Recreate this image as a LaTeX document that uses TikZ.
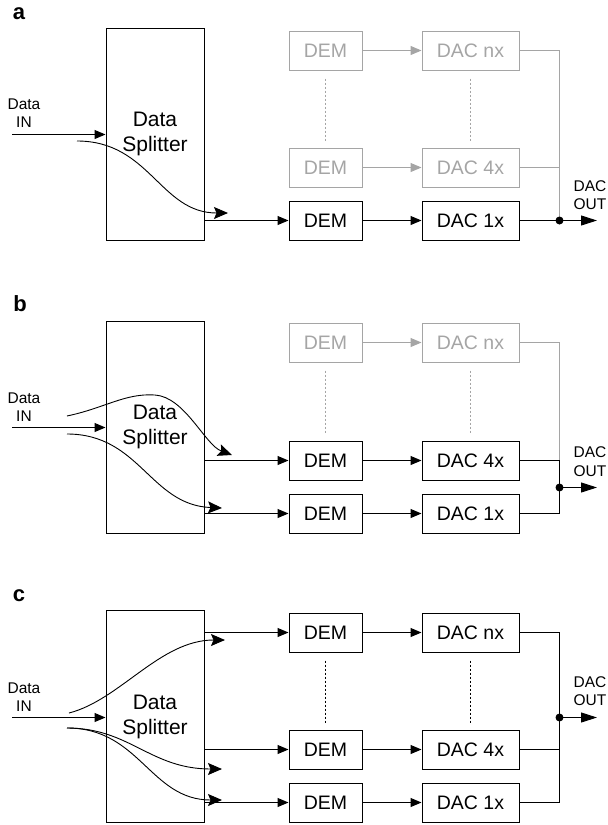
\documentclass[tikz,border=0pt]{standalone}
\usepackage{fontspec}
\setmainfont{Liberation Sans}
\usetikzlibrary{arrows.meta}
\definecolor{faded}{RGB}{165,165,165}
\tikzset{
  blk/.style={draw, line width=1pt, minimum height=39pt, inner sep=0pt,
    font=\fontsize{19.5}{22}\selectfont},
  dembox/.style={blk, minimum width=73pt},
  dacbox/.style={blk, minimum width=97pt},
  splitbox/.style={draw, line width=1pt, minimum width=98pt, minimum height=212pt,
    align=center, inner sep=0pt, font=\fontsize{21}{25}\selectfont},
  ghost/.style={draw=faded, text=faded},
  wire/.style={line width=1pt},
  link/.style={wire, -{Triangle[length=11pt,width=9pt]}},
  flow/.style={line width=0.9pt, -{Stealth[length=14pt,width=12pt,inset=2.5pt]}},
  outarrow/.style={wire, -{Triangle[length=16pt,width=10pt]}},
  dots/.style={line width=0.8pt, dash pattern=on 2pt off 2pt, shorten <=8pt, shorten >=7pt},
  tag/.style={align=center, inner sep=0pt, font=\fontsize{15.5}{18.5}\selectfont},
  panel/.style={inner sep=0pt, font=\bfseries\fontsize{22}{26}\selectfont},
  junction/.style={circle, fill, inner sep=0pt, minimum size=8pt},
}
\begin{document}
\begin{tikzpicture}[x=1pt,y=-1pt]
\useasboundingbox (0,0) rectangle (608,825);

% ---------------- panel a ----------------
\node[panel] (la) at (19,14) {a};
\node[splitbox] (sa) at (155,134) {Data\\Splitter};
\node[tag] (ia) at (24,113) {Data\\IN};
\coordinate (ina) at (12,134.5);
\draw[link] (ina) -- (sa.west |- ina);

\node[dembox, ghost] (dna) at (325.5,50.5) {DEM};
\node[dacbox, ghost] (cna) at (470.5,50.5) {DAC nx};
\node[dembox, ghost] (d4a) at (325.5,167.5) {DEM};
\node[dacbox, ghost] (c4a) at (470.5,167.5) {DAC 4x};
\node[dembox] (d1a) at (325.5,220.5) {DEM};
\node[dacbox] (c1a) at (470.5,220.5) {DAC 1x};

\draw[link, faded] (dna) -- (cna);
\draw[link, faded] (d4a) -- (c4a);
\draw[link] (d1a) -- (c1a);
\draw[dots, faded] (dna.south) -- (d4a.north);
\draw[dots, faded] (cna.south) -- (c4a.north);

\draw[link] (sa.east |- d1a.west) -- (d1a.west);
\coordinate (sa1) at (77,141);
\coordinate (ta1) at (228,213);
\draw[flow] (sa1) .. controls (150,141) and (160,213) .. (ta1);

\coordinate (ja) at (559.5,220.5);
\draw[wire, faded] (cna.east) -| (ja);
\draw[wire, faded] (c4a.east) -- (c4a.east -| ja);
\draw[wire] (c1a.east) -- (ja);
\node[junction] (jna) at (ja) {};
\coordinate (oa) at (597,220.5);
\draw[outarrow] (jna.center) -- (oa);
\node[tag] (outa) at (590,195) {DAC\\OUT};

% ---------------- panel b ----------------
\node[panel] (lb) at (20,304) {b};
\node[splitbox] (sb) at (155,427) {Data\\Splitter};
\node[tag] (ib) at (24,407) {Data\\IN};
\coordinate (inb) at (12,427.5);
\draw[link] (inb) -- (sb.west |- inb);

\node[dembox, ghost] (dnb) at (325.5,342.5) {DEM};
\node[dacbox, ghost] (cnb) at (470.5,342.5) {DAC nx};
\node[dembox] (d4b) at (325.5,460.5) {DEM};
\node[dacbox] (c4b) at (470.5,460.5) {DAC 4x};
\node[dembox] (d1b) at (325.5,513.5) {DEM};
\node[dacbox] (c1b) at (470.5,513.5) {DAC 1x};

\draw[link, faded] (dnb) -- (cnb);
\draw[link] (d4b) -- (c4b);
\draw[link] (d1b) -- (c1b);
\draw[dots, faded] (dnb.south) -- (d4b.north);
\draw[dots, faded] (cnb.south) -- (c4b.north);

\draw[link] (sb.east |- d4b.west) -- (d4b.west);
\draw[link] (sb.east |- d1b.west) -- (d1b.west);
\coordinate (sb1) at (67,416);
\coordinate (tb1) at (232,455);
\draw[flow] (sb1) .. controls (105,408) and (125,393) .. (155,395)
                  .. controls (185,397) and (205,445) .. (tb1);
\coordinate (sb2) at (67,434);
\coordinate (tb2) at (222,508);
\draw[flow] (sb2) .. controls (140,434) and (150,505) .. (tb2);

\coordinate (jb) at (559.5,487.5);
\draw[wire, faded] (cnb.east) -| (c4b.east -| jb);
\draw[wire] (c4b.east) -| (jb);
\draw[wire] (c1b.east) -| (jb);
\node[junction] (jnb) at (jb) {};
\coordinate (ob) at (597,487.5);
\draw[outarrow] (jnb.center) -- (ob);
\node[tag] (outb) at (590,461.5) {DAC\\OUT};

% ---------------- panel c ----------------
\node[panel] (lc) at (19,596) {c};
\node[splitbox] (sc) at (155,716.5) {Data\\Splitter};
\node[tag] (ic) at (24,697) {Data\\IN};
\coordinate (inc) at (12,717.5);
\draw[link] (inc) -- (sc.west |- inc);

\node[dembox] (dnc) at (325.5,632.5) {DEM};
\node[dacbox] (cnc) at (470.5,632.5) {DAC nx};
\node[dembox] (d4c) at (325.5,749.5) {DEM};
\node[dacbox] (c4c) at (470.5,749.5) {DAC 4x};
\node[dembox] (d1c) at (325.5,802.5) {DEM};
\node[dacbox] (c1c) at (470.5,802.5) {DAC 1x};

\draw[link] (dnc) -- (cnc);
\draw[link] (d4c) -- (c4c);
\draw[link] (d1c) -- (c1c);
\draw[dots] (dnc.south) -- (d4c.north);
\draw[dots] (cnc.south) -- (c4c.north);

\draw[link] (sc.east |- dnc.west) -- (dnc.west);
\draw[link] (sc.east |- d4c.west) -- (d4c.west);
\draw[link] (sc.east |- d1c.west) -- (d1c.west);
\coordinate (sc1) at (69,713);
\coordinate (tc1) at (225,640);
\draw[flow] (sc1) .. controls (120,700) and (160,640) .. (tc1);
\coordinate (sc2) at (67,728);
\coordinate (tc2) at (222,769);
\draw[flow] (sc2) .. controls (130,728) and (150,769) .. (tc2);
\coordinate (tc3) at (222,800);
\draw[flow] (sc2) .. controls (140,728) and (150,800) .. (tc3);

\coordinate (jc) at (559.5,717.5);
\draw[wire] (cnc.east) -| (jc);
\draw[wire] (c1c.east) -| (jc);
\draw[wire] (c4c.east) -- (c4c.east -| jc);
\node[junction] (jnc) at (jc) {};
\coordinate (oc) at (597,717.5);
\draw[outarrow] (jnc.center) -- (oc);
\node[tag] (outc) at (590,691) {DAC\\OUT};
\end{tikzpicture}
\end{document}
